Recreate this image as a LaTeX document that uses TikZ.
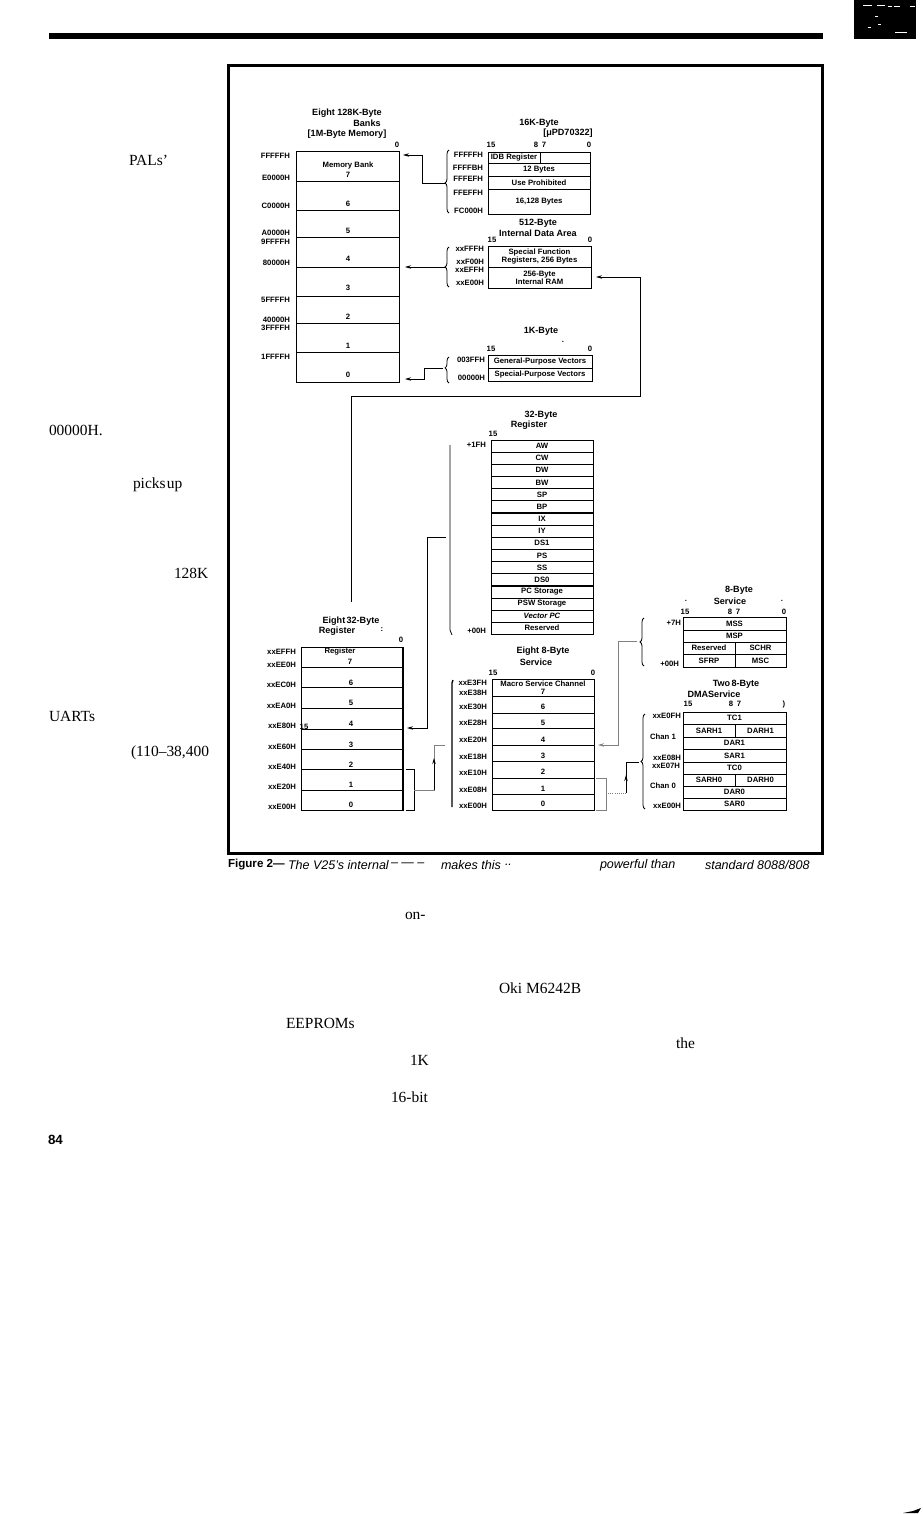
\documentclass[tikz,border=0pt]{standalone}
\usepackage{fontspec}
\setmainfont{Liberation Serif}
\setsansfont{Liberation Sans}
\usetikzlibrary{arrows.meta,decorations.pathreplacing}

\begin{document}
\begin{tikzpicture}[
  x=0.75pt, y=-0.75pt,
  every node/.style={font=\fontsize{5.8}{6}\selectfont\bfseries\sffamily, align=center,
                     inner sep=0pt, outer sep=0pt},
  cell/.style n args={2}{draw, line width=0.6pt, minimum width=#1*0.75pt, minimum height=#2*0.75pt},
  addr/.style={anchor=east},
  head/.style={font=\fontsize{6.8}{7}\selectfont\bfseries\sffamily},
  prose/.style={anchor=west, font=\fontsize{11.6}{12}\selectfont\rmfamily},
  capt/.style={anchor=west, font=\fontsize{9.4}{10}\selectfont\itshape\sffamily},
  wire/.style={line width=0.6pt},
  link/.style={wire, ->, >={Stealth[length=4.5pt,width=2.6pt]}},
  curly/.style={wire, decorate, decoration={brace,amplitude=3pt,aspect=#1}},
  curly/.default=0.5
]
  \useasboundingbox (0,0) rectangle (923,1514);
  % page furniture
  \draw[line width=4.5pt] (49,36) -- (823,36);
  \draw[line width=2.25pt] (228,65.5) rectangle (822,853.5);
  \fill (854,0) rectangle (916,39);
  \draw[white, line width=0.5pt] (863,5) -- (872,5) (877,5) -- (885,5) (888,6) -- (892,6) (894,6) -- (900,6)
    (910,6) -- (915,6) (875,16) -- (878,16) (895,32) -- (907,32) (878,24) -- (881,24) (868,27) -- (871,27);
  \fill (903,1513) -- (918,1513) -- (921,1508) -- (913,1511) -- cycle;

  % left column of the page
  \node[prose] (pals) at (129,160) {PALs’};
  \node[prose] (zeros) at (49,430) {00000H.};
  \node[prose] (picks) at (133,485) {picks\hspace{1pt}up};
  \node[prose] (k128) at (174,573) {128K};
  \node[prose] (uarts) at (49,716) {UARTs};
  \node[prose] (baud) at (131,753) {(110–38,400};

  % eight banks
  \node[head] (banktitle) at (347,113) {Eight 128K-Byte};
  \node[head] (banktitleb) at (367,123) {Banks};
  \node[head] (banktitlec) at (347,134) {[1M-Byte Memory]};
  \node (bankzero) at (397,145) {0};
  \node[cell={103}{30}] (bank7) at (347.5,166) {};
  \node[cell={103}{29}] (bank6) at (347.5,195.5) {};
  \node[cell={103}{27}] (bank5) at (347.5,223.5) {};
  \node[cell={103}{30}] (bank4) at (347.5,252) {};
  \node[cell={103}{29}] (bank3) at (347.5,281.5) {};
  \node[cell={103}{27}] (bank2) at (347.5,309.5) {};
  \node[cell={103}{29}] (bank1) at (347.5,337.5) {};
  \node[cell={103}{30}] (bank0) at (347.5,367) {};
  \node (bankname) at (348,165) {Memory Bank};
  \node (banknum7) at (348,175) {7};
  \node (banknum6) at (348,204) {6};
  \node (banknum5) at (348,231) {5};
  \node (banknum4) at (348,259) {4};
  \node (banknum3) at (348,288) {3};
  \node (banknum2) at (348,317) {2};
  \node (banknum1) at (348,346) {1};
  \node (banknum0) at (348,375) {0};
  \node[addr] (bankaddrA) at (290,156) {FFFFFH};
  \node[addr] (bankaddrB) at (290,178) {E0000H};
  \node[addr] (bankaddrC) at (290,206) {C0000H};
  \node[addr] (bankaddrD) at (290,233) {A0000H};
  \node[addr] (bankaddrE) at (290,242) {9FFFFH};
  \node[addr] (bankaddrF) at (290,263) {80000H};
  \node[addr] (bankaddrG) at (290,300) {5FFFFH};
  \node[addr] (bankaddrH) at (290,320) {40000H};
  \node[addr] (bankaddrI) at (290,328) {3FFFFH};
  \node[addr] (bankaddrJ) at (290,357) {1FFFFH};

  % 16K area
  \node[head] (sxktitle) at (539,123) {16K-Byte};
  \node[head] (sxktitleb) at (568,133) {[μPD70322]};
  \node (sxkbitA) at (491,145) {15};
  \node (sxkbitB) at (536,145) {8};
  \node (sxkbitC) at (544,145) {7};
  \node (sxkbitD) at (589,145) {0};
  \node[cell={52}{11}] (idb) at (514,157.5) {IDB Register};
  \node[cell={50}{11}] (idbblank) at (565,157.5) {};
  \node[cell={102}{13}] (twelve) at (539,169.5) {12 Bytes};
  \node[cell={102}{13}] (prohib) at (539,182.5) {Use Prohibited};
  \node[cell={102}{25}] (sxkrest) at (539,201.5) {16,128 Bytes};
  \node[addr] (sxkaddrA) at (483,155) {FFFFFH};
  \node[addr] (sxkaddrB) at (483,168) {FFFFBH};
  \node[addr] (sxkaddrC) at (483,179) {FFFEFH};
  \node[addr] (sxkaddrD) at (483,193) {FFEFFH};
  \node[addr] (sxkaddrE) at (483,211) {FC000H};

  % 512-byte area
  \node[head] (datatitle) at (538,223) {512-Byte};
  \node[head] (datatitleb) at (538,233) {Internal Data Area};
  \node (databitA) at (492,240) {15};
  \node (databitB) at (590,240) {0};
  \node[cell={103}{21}] (sfr) at (539.5,256.5) {Special Function\\Registers, 256 Bytes};
  \node[cell={103}{21}] (ram) at (539.5,277.5) {256-Byte\\Internal RAM};
  \node[addr] (dataaddrA) at (484,249) {xxFFFH};
  \node[addr] (dataaddrB) at (484,262) {xxF00H};
  \node[addr] (dataaddrC) at (484,270) {xxEFFH};
  \node[addr] (dataaddrD) at (484,283) {xxE00H};

  % 1K vectors
  \node[head] (vectitle) at (541,331) {1K-Byte};
  \node (vecspeck) at (563,342) {.};
  \node (vecbitA) at (491,349) {15};
  \node (vecbitB) at (590,349) {0};
  \node[cell={104}{13}] (genvec) at (540,361.5) {General-Purpose Vectors};
  \node[cell={104}{13}] (spevec) at (540,374.5) {Special-Purpose Vectors};
  \node[addr] (vecaddrA) at (485,360) {003FFH};
  \node[addr] (vecaddrB) at (485,378) {00000H};

  % 32-byte register
  \node[head] (regtitle) at (541,415) {32-Byte};
  \node[head] (regtitleb) at (529,425) {Register};
  \node (regbit) at (493,434) {15};
  \node[cell={102}{12.1}] (rAW) at (542,446) {AW};
  \node[cell={102}{12.1}] (rCW) at (542,458) {CW};
  \node[cell={102}{12.1}] (rDW) at (542,470) {DW};
  \node[cell={102}{12.1}] (rBW) at (542,482.5) {BW};
  \node[cell={102}{12.1}] (rSP) at (542,494.5) {SP};
  \node[cell={102}{12.1}] (rBP) at (542,506.5) {BP};
  \node[cell={102}{12.1}] (rIX) at (542,519) {IX};
  \node[cell={102}{12.1}] (rIY) at (542,531) {IY};
  \node[cell={102}{12.1}] (rDSA) at (542,543) {DS1};
  \node[cell={102}{12.1}] (rPS) at (542,555.5) {PS};
  \node[cell={102}{12.1}] (rSS) at (542,567.5) {SS};
  \node[cell={102}{12.1}] (rDSB) at (542,579.5) {DS0};
  \node[cell={102}{12.1}] (rPC) at (542,592) {PC Storage};
  \node[cell={102}{12.1}] (rPSW) at (542,604) {PSW Storage};
  \node[cell={102}{12.1}] (rVec) at (542,616) {\itshape Vector PC};
  \node[cell={102}{12.1}] (rRes) at (542,628) {Reserved};
  \node[addr] (regaddrA) at (486,445) {+1FH};
  \node[addr] (regaddrB) at (486,631) {+00H};

  % eight 32-byte register banks
  \node[head] (bnktitle) at (351,621) {Eight\hspace{1pt}32-Byte};
  \node[head] (bnktitleb) at (337,631) {Register};
  \node (bnkspeck) at (382,630) {:};
  \node (bnkzero) at (401,640) {0};
  \node[cell={102}{20}] (bnk7) at (352,657) {};
  \node[cell={102}{20}] (bnk6) at (352,677) {};
  \node[cell={102}{21}] (bnk5) at (352,697.5) {};
  \node[cell={102}{21}] (bnk4) at (352,718.5) {};
  \node[cell={102}{20}] (bnk3) at (352,739) {};
  \node[cell={102}{20}] (bnk2) at (352,759) {};
  \node[cell={102}{21}] (bnk1) at (352,779.5) {};
  \node[cell={102}{20}] (bnk0) at (352,800) {};
  \draw[line width=1.5pt] (bnk7.north east) -- (bnk0.south east);
  \node (bnkname) at (340,652) {Register};
  \node (bnknum7) at (350,662) {7};
  \node (bnknum6) at (351,683) {6};
  \node (bnknum5) at (351,703) {5};
  \node (bnknum4) at (351,724) {4};
  \node (bnknum3) at (351,745) {3};
  \node (bnknum2) at (351,765) {2};
  \node (bnknum1) at (351,785) {1};
  \node (bnknum0) at (351,805) {0};
  \node (bnkfifteen) at (304,727) {15};
  \node[addr] (bnkaddrA) at (296,652) {xxEFFH};
  \node[addr] (bnkaddrB) at (296,665) {xxEE0H};
  \node[addr] (bnkaddrC) at (296,685) {xxEC0H};
  \node[addr] (bnkaddrD) at (296,706) {xxEA0H};
  \node[addr] (bnkaddrE) at (296,726) {xxE80H};
  \node[addr] (bnkaddrF) at (296,747) {xxE60H};
  \node[addr] (bnkaddrG) at (296,767) {xxE40H};
  \node[addr] (bnkaddrH) at (296,787) {xxE20H};
  \node[addr] (bnkaddrI) at (296,807) {xxE00H};

  % eight 8-byte service channels
  \node[head] (chantitle) at (543,651) {Eight 8-Byte};
  \node[head] (chantitleb) at (536,662) {Service};
  \node (chanbitA) at (493,673) {15};
  \node (chanbitB) at (593,673) {0};
  \node[cell={102}{17}] (chan7) at (543,687.5) {};
  \node[cell={102}{17}] (chan6) at (543,704.5) {};
  \node[cell={102}{15}] (chan5) at (543,720.5) {};
  \node[cell={102}{17}] (chan4) at (543,736.5) {};
  \node[cell={102}{16}] (chan3) at (543,753) {};
  \node[cell={102}{17}] (chan2) at (543,769.5) {};
  \node[cell={102}{16}] (chan1) at (543,786) {};
  \node[cell={102}{16}] (chan0) at (543,802) {};
  \node (channame) at (543,684) {Macro Service Channel};
  \node (channum7) at (543,691.5) {7};
  \node (channum6) at (543,707) {6};
  \node (channum5) at (543,723) {5};
  \node (channum4) at (543,740) {4};
  \node (channum3) at (543,756) {3};
  \node (channum2) at (543,772) {2};
  \node (channum1) at (543,789) {1};
  \node (channum0) at (543,804) {0};
  \node[addr] (chanaddrA) at (487,683) {xxE3FH};
  \node[addr] (chanaddrB) at (487,693) {xxE38H};
  \node[addr] (chanaddrC) at (487,707) {xxE30H};
  \node[addr] (chanaddrD) at (487,723) {xxE28H};
  \node[addr] (chanaddrE) at (487,740) {xxE20H};
  \node[addr] (chanaddrF) at (487,757) {xxE18H};
  \node[addr] (chanaddrG) at (487,773) {xxE10H};
  \node[addr] (chanaddrH) at (487,790) {xxE08H};
  \node[addr] (chanaddrI) at (487,806) {xxE00H};

  % one service channel
  \node[head] (msctitle) at (739,590) {8-Byte};
  \node[head] (msctitleb) at (730,601) {Service};
  \node (mscspeckA) at (686,601) {.};
  \node (mscspeckB) at (782,601) {.};
  \node (mscbitA) at (685,612) {15};
  \node (mscbitB) at (730,612) {8};
  \node (mscbitC) at (738,612) {7};
  \node (mscbitD) at (784,612) {0};
  \node[cell={103}{13}] (mss) at (734.5,623.5) {MSS};
  \node[cell={103}{12}] (msp) at (734.5,636) {MSP};
  \node[cell={52}{12}] (mscres) at (709,648) {Reserved};
  \node[cell={51}{12}] (schr) at (760.5,648) {SCHR};
  \node[cell={52}{13}] (sfrp) at (709,660.5) {SFRP};
  \node[cell={51}{13}] (msc) at (760.5,660.5) {MSC};
  \node[addr] (mscaddrA) at (681,623) {+7H};
  \node[addr] (mscaddrB) at (679,664) {+00H};

  % two DMA channels
  \node[head] (dmatitle) at (736,684) {Two\hspace{1pt}8-Byte};
  \node[head] (dmatitleb) at (714,694) {DMAService};
  \node (dmabitA) at (688,704) {15};
  \node (dmabitB) at (731,704) {8};
  \node (dmabitC) at (739,704) {7};
  \node (dmabitD) at (784,704) {)};
  \node[cell={103}{12}] (tcA) at (734.5,718) {TC1};
  \node[cell={52}{13}] (sarhA) at (709,730.5) {SARH1};
  \node[cell={51}{13}] (darhA) at (760.5,730.5) {DARH1};
  \node[cell={103}{12}] (darA) at (734.5,743) {DAR1};
  \node[cell={103}{13}] (sarA) at (734.5,755.5) {SAR1};
  \node[cell={103}{12}] (tcB) at (734.5,768) {TC0};
  \node[cell={52}{12}] (sarhB) at (709,780) {SARH0};
  \node[cell={51}{12}] (darhB) at (760.5,780) {DARH0};
  \node[cell={103}{12}] (darB) at (734.5,792) {DAR0};
  \node[cell={103}{12}] (sarB) at (734.5,804) {SAR0};
  \node[addr] (dmaaddrA) at (681,716) {xxE0FH};
  \node (dmachanA) at (663,737) {Chan 1};
  \node[addr] (dmaaddrB) at (681,758) {xxE08H};
  \node[addr] (dmaaddrC) at (680,766) {xxE07H};
  \node (dmachanB) at (663,786) {Chan 0};
  \node[addr] (dmaaddrD) at (681,806) {xxE00H};

  % points the connectors turn at
  \coordinate (bankIn) at (403,155);
  \coordinate (sxkTip) at (445,183);
  \coordinate (sxkJog) at (422,155);
  \coordinate (dataTip) at (445,267);
  \coordinate (dataIn) at (405,267);
  \coordinate (vecTip) at (443,368);
  \coordinate (vecJog) at (424,379);
  \coordinate (vecIn) at (405,379);
  \coordinate (busFoot) at (351,602);
  \coordinate (busTop) at (640,396);
  \coordinate (ramIn) at (596,277);
  \coordinate (regTip) at (446,537);
  \coordinate (regJog) at (427,728);
  \coordinate (bnkIn) at (407,728);
  \coordinate (bnkClipA) at (406,769);
  \coordinate (bnkClipB) at (414,810);
  \coordinate (bnkClipC) at (406,810);
  \coordinate (bnkClipMid) at (414,790);
  \coordinate (chanJog) at (434,745);
  \coordinate (chanJogFoot) at (434,790);
  \coordinate (chanJogTick) at (434,758);
  \coordinate (chanTip) at (445,745);
  \coordinate (chanClipA) at (596,778);
  \coordinate (chanClipB) at (606,810);
  \coordinate (chanClipC) at (596,810);
  \coordinate (chanClipMid) at (606,793);
  \coordinate (dmaJog) at (626,762);
  \coordinate (dmaJogFoot) at (626,793);
  \coordinate (dmaJogTick) at (626,775);
  \coordinate (dmaTip) at (639,762);
  \coordinate (mscTip) at (637,641);
  \coordinate (mscJog) at (618,745);
  \coordinate (mscIn) at (598,745);

  % braces
  \draw[curly=0.476] (449,213) -- (449,150);
  \draw[curly] (449,287) -- (449,247);
  \draw[curly=0.58] (449,383) -- (449,357);
  \draw[curly] (644,666) -- (644,618);
  \draw[curly] (645,809) -- (645,714);
  \draw[wire] (450,445) -- (450,630) -- (452,635);
  \draw[line width=1pt] (453,680) -- (452,683) -- (452,807);

  % connectors
  \draw[link] (sxkTip) -| (sxkJog) -- (bankIn);
  \draw[link] (dataTip) -- (dataIn);
  \draw[link] (vecTip) -| (vecJog) -- (vecIn);
  \draw[link] (busFoot) |- (busTop) |- (ramIn);
  \draw[link] (regTip) -| (regJog) -- (bnkIn);
  \draw[wire] (bnkClipA) -| (bnkClipB) -- (bnkClipC);
  \draw[wire, gray] (bnkClipMid) -| (chanJog) -- (chanTip);
  \draw[link] (chanJogFoot) -- (chanJogTick);
  \draw[wire, gray] (chanClipA) -| (chanClipB) -- (chanClipC);
  \draw[wire, gray, densely dotted] (chanClipMid) -- (dmaJogFoot);
  \draw[wire] (dmaJogFoot) -- (dmaJog) -- (dmaTip);
  \draw[link] (dmaJogFoot) -- (dmaJogTick);
  \draw[link, gray] (mscTip) -| (mscJog) -- (mscIn);

  % caption
  \node[anchor=west, font=\fontsize{8.7}{9}\selectfont\bfseries\sffamily] (figlabel) at (228,865) {Figure 2—};
  \node[capt] (capA) at (288,865) {The V25’s internal};
  \node[capt] (capB) at (391,865) {-- --- --};
  \node[capt] (capC) at (441,865) {makes this};
  \node[capt] (capD) at (505,865) {..};
  \node[capt] (capE) at (600,865) {powerful than};
  \node[capt] (capF) at (705,865) {standard 8088/808};

  % text below the figure
  \node[prose] (onhyp) at (405,916) {on-};
  \node[prose] (oki) at (499,988) {Oki M6242B};
  \node[prose] (eeprom) at (286,1023) {EEPROMs};
  \node[prose] (the) at (676,1043) {the};
  \node[prose] (onek) at (410,1060) {1K};
  \node[prose] (sixteen) at (391,1097) {16-bit};
  \node[anchor=west, font=\fontsize{10}{11}\selectfont\bfseries\sffamily] (pageno) at (48,1140) {84};
\end{tikzpicture}
\end{document}
